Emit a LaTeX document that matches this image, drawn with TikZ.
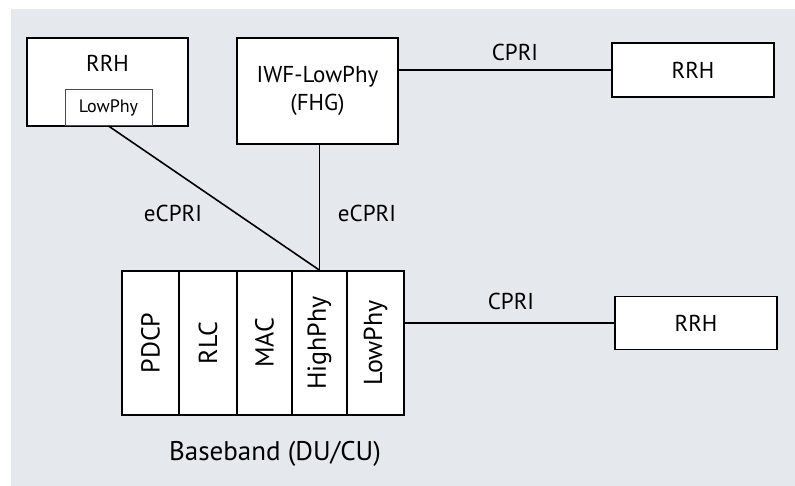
\documentclass[tikz,border=0pt]{standalone}
\usepackage{fontspec}
\setmainfont{PT Sans}
\definecolor{bgpanel}{RGB}{229,233,238}
\begin{document}
\begin{tikzpicture}[x=1pt,y=-1pt,
  box/.style={draw=black, fill=white, line width=1.6pt, inner sep=0pt},
  layer/.style={box, minimum width=#1, minimum height=144, font=\fontsize{26}{28}\selectfont},
  lbl/.style={font=\fontsize{23}{26}\selectfont, inner sep=0pt},
  link/.style={line width=1.6pt}]
\useasboundingbox (0,0) rectangle (795,486);
\fill[bgpanel] (11,9) rectangle (795,486);

% radio heads and interworking function
\node[box, minimum width=161, minimum height=88, lbl] (rrhA) at (107.5,82) {};
\node[lbl] at (107.5,63) {RRH};
\node[draw=black!70, fill=white, line width=1pt, minimum width=87, minimum height=36,
      inner sep=0pt, font=\fontsize{18}{20}\selectfont, anchor=south] (lpA) at (108.5,126) {LowPhy};

\node[box, minimum width=161, minimum height=106, lbl, align=center] (iwf) at (317.5,91)
  {IWF-LowPhy\\[2pt](FHG)};

\node[box, minimum width=162, minimum height=54, lbl] (rrhB) at (693,70) {RRH};
\node[box, minimum width=162, minimum height=53, lbl] (rrhC) at (696,323) {RRH};

% baseband protocol stack
\node[layer=57] (pdcp) at (150.5,343) {\rotatebox{90}{PDCP}};
\node[layer=58] (rlc)  at (208,343)   {\rotatebox{90}{RLC}};
\node[layer=55] (mac)  at (264.5,343) {\rotatebox{90}{MAC}};
\node[layer=55] (hp)   at (319.5,343) {\rotatebox{90}{HighPhy}};
\node[layer=57] (lp)   at (375.5,343) {\rotatebox{90}{LowPhy}};
\node[font=\fontsize{27}{30}\selectfont, inner sep=0pt] (bb) at (275,454) {Baseband (DU/CU)};

% fronthaul links
\draw[link] (lpA.south) -- (hp.north);
\draw[link] (hp.north) -- (hp.north |- iwf.south);
\draw[link] (iwf.east |- rrhB.west) -- (rrhB.west);
\draw[link] (lp.east |- rrhC.west) -- (rrhC.west);

\node[lbl] (l1) at (173,213) {eCPRI};
\node[lbl] (l2) at (367,213) {eCPRI};
\node[lbl] (l3) at (515,52) {CPRI};
\node[lbl] (l4) at (511,301) {CPRI};
\end{tikzpicture}
\end{document}
